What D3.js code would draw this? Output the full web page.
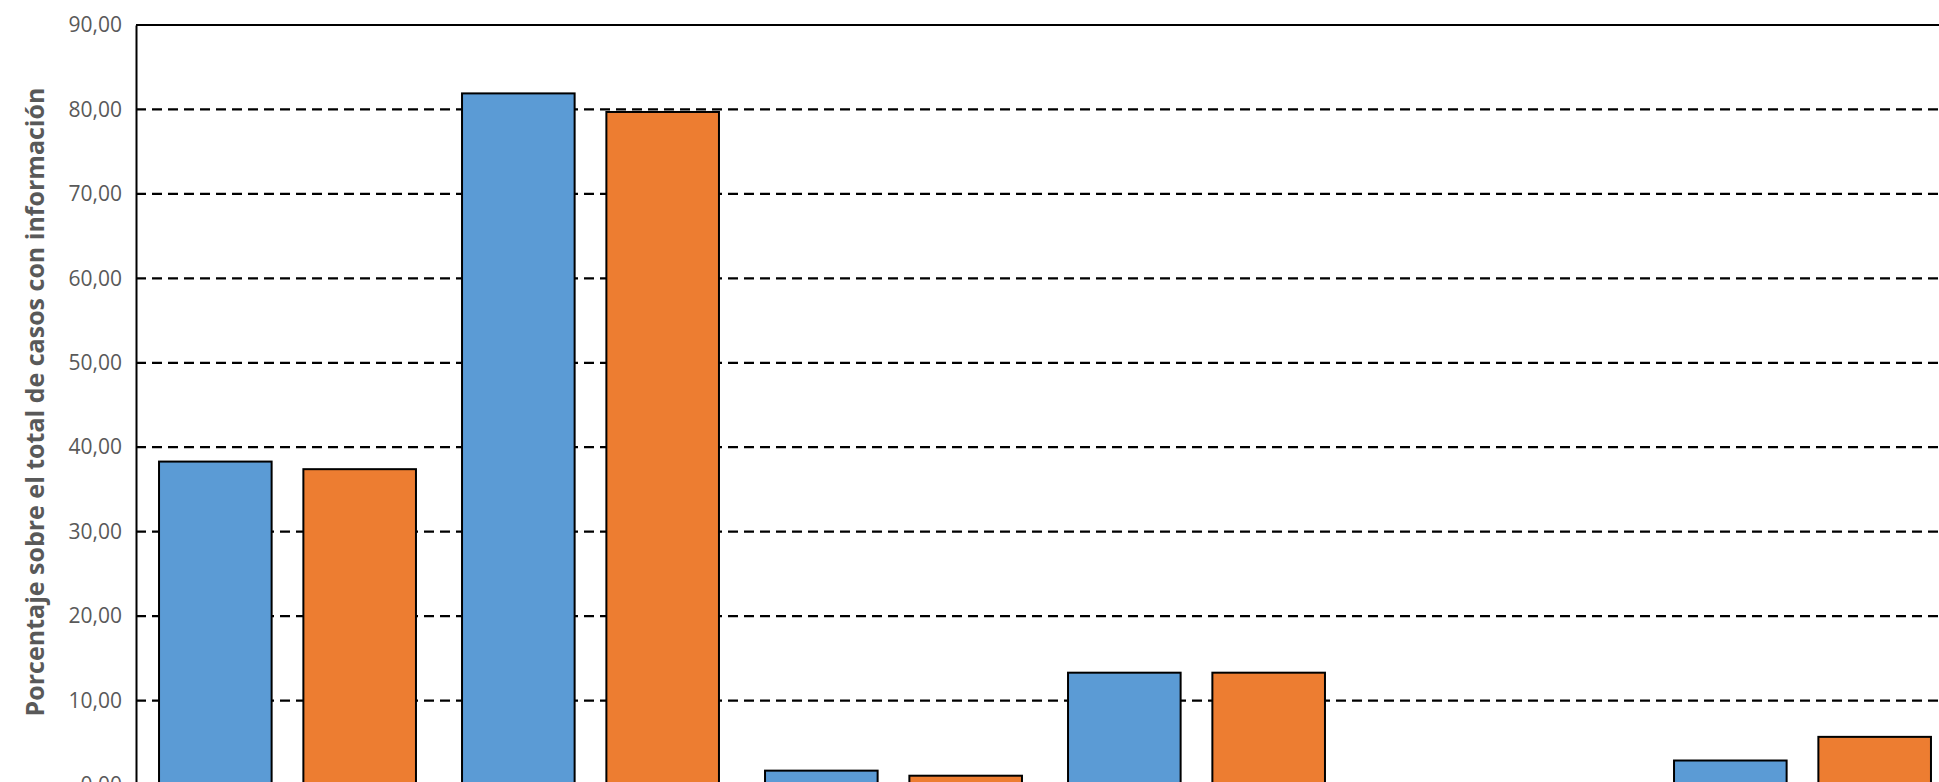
<!DOCTYPE html>
<html>
<head>
<meta charset="utf-8">
<script src="https://cdn.jsdelivr.net/npm/d3@7"></script>
<style>
  body { margin: 0; background: #fff; overflow: hidden; }
  svg { display: block; }
</style>
</head>
<body>
<svg></svg>
<script>
// chart values
let categories = ['A', 'B', 'C', 'D', 'E', 'F'];
let series1 = [38.3, 81.9, 1.7, 13.3, 0, 2.9];
let series2 = [37.4, 79.7, 1.1, 13.3, 0, 5.7];
let yTicks = [0, 10, 20, 30, 40, 50, 60, 70, 80, 90];

let width = 1939;
let height = 782;
let plotLeft = 136;
let plotTop = 25;
let zeroY = 785;
let step = 303;

let svg = d3.select('svg')
    .attr('width', width)
    .attr('height', height);

let xScale = d3.scaleBand()
    .domain(categories)
    .range([plotLeft, plotLeft + step * categories.length])
    .paddingInner(0.152)
    .paddingOuter(0.076);

let inner = d3.scaleBand()
    .domain(['s1', 's2'])
    .range([0, xScale.bandwidth()])
    .paddingInner(0.22);

let yScale = d3.scaleLinear()
    .domain([0, 90])
    .range([zeroY, plotTop]);

// dashed gridlines
svg.append('g')
    .selectAll('line')
    .data(yTicks.filter(d => d > 0 && d < 90))
    .enter()
    .append('line')
    .attr('x1', plotLeft)
    .attr('x2', width)
    .attr('y1', d => yScale(d))
    .attr('y2', d => yScale(d))
    .attr('stroke', '#000')
    .attr('stroke-width', 2.2)
    .attr('stroke-dasharray', '10,6');

// top frame line
svg.append('line')
    .attr('x1', plotLeft).attr('x2', width)
    .attr('y1', yScale(90)).attr('y2', yScale(90))
    .attr('stroke', '#000').attr('stroke-width', 2);

// bars
let colors = { s1: '#5b9bd5', s2: '#ed7d31' };
let rows = [];
categories.forEach((c, i) => {
    rows.push({ cat: c, key: 's1', value: series1[i] });
    rows.push({ cat: c, key: 's2', value: series2[i] });
});

svg.append('g')
    .selectAll('rect')
    .data(rows.filter(r => r.value > 0))
    .enter()
    .append('rect')
    .attr('x', r => xScale(r.cat) + inner(r.key))
    .attr('y', r => yScale(r.value))
    .attr('width', inner.bandwidth())
    .attr('height', r => zeroY - yScale(r.value))
    .attr('fill', r => colors[r.key])
    .attr('stroke', '#000')
    .attr('stroke-width', 2);

// y axis
let yAxis = d3.axisLeft(yScale)
    .tickValues(yTicks)
    .tickSize(0)
    .tickPadding(14)
    .tickFormat(d => d3.format('.2f')(d).replace('.', ','));

let yG = svg.append('g')
    .attr('transform', `translate(${plotLeft}, 0)`)
    .call(yAxis);
yG.select('.domain').attr('stroke', '#000').attr('stroke-width', 2);
yG.selectAll('text')
    .attr('fill', '#595959')
    .style('font-family', '"Open Sans", sans-serif')
    .style('font-size', '21px');

// y axis title
svg.append('text')
    .attr('transform', `translate(44, 402) rotate(-90)`)
    .attr('text-anchor', 'middle')
    .attr('fill', '#595959')
    .style('font-family', '"Open Sans", sans-serif')
    .style('font-weight', 'bold')
    .style('font-size', '25px')
    .text('Porcentaje sobre el total de casos con información');
</script>
</body>
</html>
